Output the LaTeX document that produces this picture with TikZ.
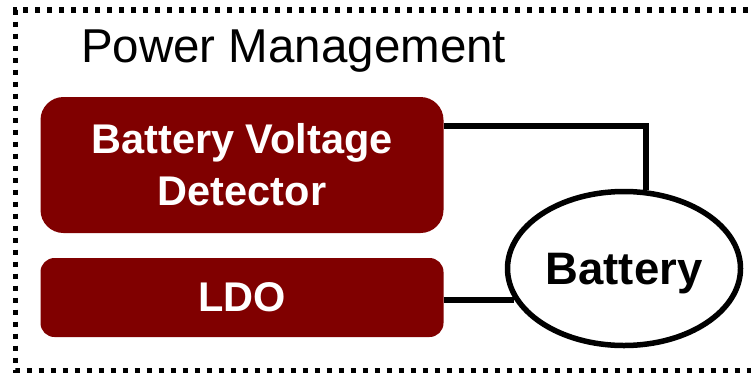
\documentclass[tikz,border=0pt]{standalone}
\usepackage{fontspec}
\setmainfont{Liberation Sans}
\usetikzlibrary{shapes.geometric}
\definecolor{boxred}{RGB}{128,0,0}

\begin{document}
\begin{tikzpicture}[x=1pt, y=-1pt,
				block/.style={rectangle, fill=boxred, text=white, align=center,
					minimum width=403pt, inner sep=0pt,
					font=\fontsize{41.5}{52}\selectfont\bfseries},
				wire/.style={line width=6pt},
				frame/.style={line width=5.5pt, dash pattern=on 5.5pt off 6.5pt}
				]
				\useasboundingbox (0,0) rectangle (751,375);
				\draw[frame] (760,10) -- (15.5,10) -- (15.5,370.5) -- (760,370.5);
				
				\node[anchor=base west, inner sep=0pt, font=\fontsize{47.5}{56}\selectfont] (title) at (81,62) {Power Management};
				
				\node[block, minimum height=136pt, rounded corners=23pt] (bvd) at (242,165) {Battery Voltage \\ Detector};
				\node[block, minimum height=79pt, rounded corners=14pt] (ldo) at (242,297.5) {LDO};
				
				\node[ellipse, draw, line width=5.5pt, fill=white, inner sep=0pt,
					minimum width=233pt, minimum height=154pt, text depth=0pt,
					font=\fontsize{45.5}{54}\selectfont\bfseries] (batt) at (624,268.5) {Battery};
				
				\draw[wire] ([yshift=39pt]bvd.east) -| (batt.74.5);
				\draw[wire] (ldo.east |- batt.196.5) -- (batt.196.5);
		\end{tikzpicture}
\end{document}
